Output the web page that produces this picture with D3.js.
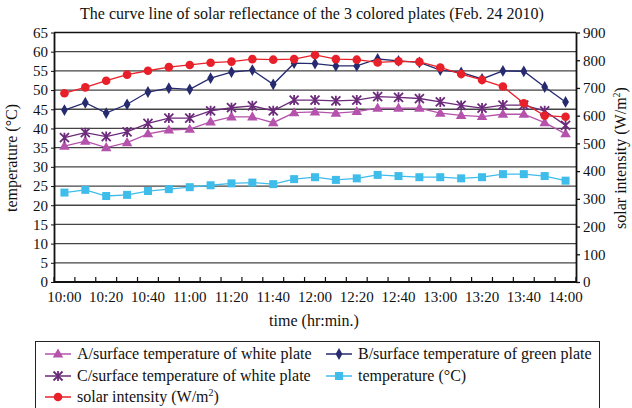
<!DOCTYPE html>
<html><head><meta charset="utf-8">
<script src="https://cdn.jsdelivr.net/npm/d3@7"></script>
<style>
body{margin:0;background:#fff;}
svg, svg text{font-family:"Liberation Serif","Tinos","DejaVu Serif",serif !important;}
</style></head>
<body><svg id="c" width="632" height="408"></svg>
<script>
const times = ["10:00","10:10","10:20","10:30","10:40","10:50","11:00","11:10","11:20","11:30","11:40","11:50","12:00","12:10","12:20","12:30","12:40","12:50","13:00","13:10","13:20","13:30","13:40","13:50","14:00"];
const tickLabels = ["10:00","10:20","10:40","11:00","11:20","11:40","12:00","12:20","12:40","13:00","13:20","13:40","14:00"];
const seriesA = [35.4,36.7,35.0,36.3,38.6,39.6,39.8,41.7,43.0,43.0,41.5,44.1,44.3,44.0,44.4,45.3,45.3,45.3,44.0,43.4,43.1,43.7,43.7,41.5,38.6];
const seriesB = [44.8,46.7,44.0,46.3,49.5,50.5,50.2,53.1,54.7,55.2,51.5,57.0,56.9,56.3,56.3,58.1,57.6,57.2,55.2,54.6,52.9,55.0,54.9,50.8,46.9];
const seriesC = [37.6,38.9,37.9,39.1,41.3,42.7,42.7,44.6,45.4,45.9,44.6,47.4,47.4,47.2,47.4,48.3,48.1,47.8,46.9,46.0,45.3,46.1,46.1,44.6,40.8];
const seriesT = [23.3,24.0,22.4,22.7,23.7,24.2,24.7,25.2,25.7,25.9,25.5,26.8,27.3,26.6,27.0,27.9,27.6,27.3,27.3,27.0,27.3,28.1,28.1,27.6,26.4];
const solar = [681,702,726,748,762,775,783,791,795,804,802,804,819,804,802,792,796,794,774,750,729,705,645,600,596];
const leftTicks = d3.range(0,66,5);
const rightTicks = d3.range(0,901,100);

const FONT = '"Liberation Serif","Tinos","DejaVu Serif",serif';
const svg = d3.select("#c");
const L=54, R=576, T=32.5, B=282;
const x = d3.scaleBand().domain(times).range([L,R]);
const yL = d3.scaleLinear().domain([0,65]).range([B,T]);
const yR = d3.scaleLinear().domain([0,900]).range([B,T]);
const cx = t => x(t)+x.bandwidth()/2;

// title
svg.append("text").attr("x",312).attr("y",19).attr("text-anchor","middle").style("font-family",FONT).attr("font-size",16).attr("fill","#111").text("The curve line of solar reflectance of the 3 colored plates (Feb. 24 2010)");

// gridlines
svg.append("g").selectAll("line").data(leftTicks.filter(v=>v>0)).join("line")
  .attr("x1",L).attr("x2",R).attr("y1",d=>yL(d)).attr("y2",d=>yL(d))
  .attr("stroke",d=>d===65?"#111":"#444").attr("stroke-width",d=>d===65?1.6:1.3);

// left axis
const gl = svg.append("g").attr("transform",`translate(${L},0)`)
  .call(d3.axisLeft(yL).tickValues(leftTicks).tickSize(3).tickSizeOuter(0));
gl.attr("font-family",null);
gl.select(".domain").attr("stroke","#111").attr("stroke-width",1.8);
gl.selectAll(".tick line").attr("stroke","#111");
gl.selectAll("text").style("font-family",FONT).attr("font-size",15).attr("fill","#111").attr("x",-6);

// right axis
const gr = svg.append("g").attr("transform",`translate(${R},0)`)
  .call(d3.axisRight(yR).tickValues(rightTicks).tickSize(4).tickSizeOuter(0));
gr.attr("font-family",null);
gr.select(".domain").attr("stroke","#111").attr("stroke-width",1.8);
gr.selectAll(".tick line").attr("stroke","#111").attr("stroke-width",1.3);
gr.selectAll("text").style("font-family",FONT).attr("font-size",15).attr("fill","#111").attr("x",7);

// bottom axis: ticks at band boundaries pointing up
const bounds = times.map(t=>x(t)).concat([R]);
svg.append("g").selectAll("line").data(bounds).join("line")
  .attr("x1",d=>d).attr("x2",d=>d).attr("y1",B).attr("y2",B-5).attr("stroke","#111").attr("stroke-width",1.2);
svg.append("line").attr("x1",L).attr("x2",R).attr("y1",B).attr("y2",B).attr("stroke","#111").attr("stroke-width",1.8);
const gb = svg.append("g").attr("transform",`translate(0,${B})`)
  .call(d3.axisBottom(x).tickValues(tickLabels).tickSize(0));
gb.attr("font-family",null);
gb.select(".domain").remove();
gb.selectAll("text").style("font-family",FONT).attr("font-size",15).attr("fill","#111").attr("dy","1.1em");

// axis titles
svg.append("text").attr("x",314).attr("y",326).attr("text-anchor","middle").style("font-family",FONT).attr("font-size",16).attr("fill","#111").text("time (hr:min.)");
svg.append("text").attr("transform","translate(17,158) rotate(-90)").attr("text-anchor","middle").style("font-family",FONT).attr("font-size",16).attr("fill","#111").text("temperature (°C)");
const rt = svg.append("text").attr("transform","translate(626,158) rotate(-90)").attr("text-anchor","middle").style("font-family",FONT).attr("font-size",16).attr("fill","#111");
rt.append("tspan").text("solar intensity (W/m");
rt.append("tspan").attr("font-size",10).attr("dy",-6).text("2");
rt.append("tspan").attr("dy",6).text(")");

// marker drawing
function marker(g, type, color, px, py){
  if(type==="tri") g.append("path").attr("d",d3.symbol(d3.symbolTriangle,48)()).attr("transform",`translate(${px},${py+0.5})`).attr("fill",color);
  else if(type==="diamond") g.append("path").attr("d",d3.symbol(d3.symbolDiamond,40)()).attr("transform",`translate(${px},${py})`).attr("fill",color);
  else if(type==="square") g.append("rect").attr("x",px-4).attr("y",py-4).attr("width",8).attr("height",8).attr("fill",color);
  else if(type==="circle") g.append("circle").attr("cx",px).attr("cy",py).attr("r",4.3).attr("fill",color);
  else if(type==="star"){
    const s=4.5;
    g.append("path").attr("d",`M${px-s},${py-s}L${px+s},${py+s}M${px-s},${py+s}L${px+s},${py-s}M${px},${py-s-0.5}L${px},${py+s+0.5}`)
      .attr("stroke",color).attr("stroke-width",1.8).attr("fill","none");
  }
}

const series = [
  {name:"A/surface temperature of white plate", data:seriesA, color:"#b552ac", type:"tri", scale:yL},
  {name:"B/surface temperature of green plate", data:seriesB, color:"#262a6e", type:"diamond", scale:yL},
  {name:"C/surface temperature of white plate", data:seriesC, color:"#6b2a7a", type:"star", scale:yL},
  {name:"temperature (°C)", data:seriesT, color:"#3ebdeb", type:"square", scale:yL},
  {name:"solar intensity (W/m", data:solar, color:"#e8202a", type:"circle", scale:yR, sup:true}
];

series.forEach(s=>{
  const g = svg.append("g");
  const line = d3.line().x((d,i)=>cx(times[i])).y(d=>s.scale(d));
  g.append("path").datum(s.data).attr("d",line).attr("fill","none").attr("stroke",s.color).attr("stroke-width",1.3);
  s.data.forEach((d,i)=>marker(g,s.type,s.color,cx(times[i]),s.scale(d)));
});

// legend
const lg = svg.append("g");
lg.append("rect").attr("x",35.5).attr("y",341.5).attr("width",564).attr("height",75).attr("fill","none").attr("stroke","#222").attr("stroke-width",1);
const pos = [[45,354],[326,354],[45,376],[326,376],[45,397]];
series.forEach((s,i)=>{
  const [lx,ly]=pos[i];
  lg.append("line").attr("x1",lx).attr("x2",lx+26).attr("y1",ly).attr("y2",ly).attr("stroke",s.color).attr("stroke-width",1.5);
  marker(lg,s.type,s.color,lx+13,ly);
  const t = lg.append("text").attr("x",lx+32).attr("y",ly+5).style("font-family",FONT).attr("font-size",16).attr("fill","#111");
  t.append("tspan").text(s.name);
  if(s.sup){
    t.append("tspan").attr("font-size",10).attr("dy",-6).text("2");
    t.append("tspan").attr("dy",6).text(")");
  }
});
</script>
</body></html>
